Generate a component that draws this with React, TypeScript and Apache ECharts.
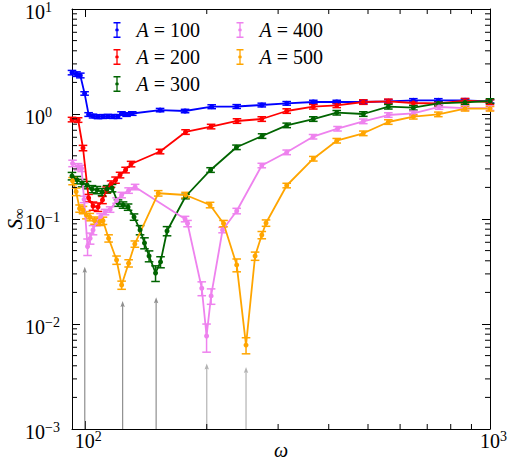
import React, { useEffect, useRef } from 'react';
import * as echarts from 'echarts';

const FONT = 'Liberation Serif, DejaVu Serif, serif';
const X_MIN = 93;
const X_MAX = 1000;
const Y_MIN = 0.001;
const Y_MAX = 10;

const seriesNames = ['A = 100', 'A = 200', 'A = 300', 'A = 400', 'A = 500'];
const seriesColors = ['#0000ff', '#ff0000', '#006400', '#ee82ee', '#ffa500'];

const w100 = [93.0, 95.4, 97.5, 99.9, 102.2, 104.8, 107.8, 110.9, 114.1, 117.4, 120.8, 123.2, 126.8, 131.0, 153.4, 176.8, 205.7, 237.1, 273.4, 315.0, 366.4, 418.6, 486.8, 561.2, 646.9, 745.6, 867.8, 1000];
const s100 = [2.48, 2.40, 2.33, 1.57, 0.989, 0.957, 0.943, 0.947, 0.951, 0.947, 0.947, 1.011, 0.989, 1.011, 1.09, 1.068, 1.174, 1.179, 1.218, 1.264, 1.301, 1.301, 1.301, 1.321, 1.35, 1.35, 1.35, 1.321];
const e100 = [0.12, 0.12, 0.12, 0.06, 0.04, 0.04, 0.04, 0.04, 0.04, 0.04, 0.04, 0.04, 0.04, 0.04, 0.04, 0.04, 0.05, 0.05, 0.05, 0.05, 0.05, 0.05, 0.05, 0.05, 0.05, 0.05, 0.05, 0.05];

const w200 = [93.0, 96.3, 99.0, 102.2, 104.8, 107.8, 110.6, 113.2, 116.1, 119.1, 122.2, 126.1, 130.1, 153.4, 177.3, 205.0, 237.5, 273.4, 315.0, 366.4, 418.6, 486.8, 561.2, 646.9, 745.6, 867.8, 1000];
const s200 = [0.886, 0.877, 0.4745, 0.1585, 0.133, 0.130, 0.152, 0.189, 0.2155, 0.235, 0.2625, 0.293, 0.334, 0.4395, 0.674, 0.760, 0.858, 0.896, 1.068, 1.174, 1.21, 1.301, 1.321, 1.273, 1.259, 1.339, 1.301];
const e200 = [0.044, 0.044, 0.028, 0.013, 0.012, 0.012, 0.012, 0.013, 0.015, 0.016, 0.016, 0.018, 0.02, 0.022, 0.034, 0.038, 0.043, 0.045, 0.053, 0.059, 0.06, 0.065, 0.066, 0.064, 0.063, 0.067, 0.065];

const w300 = [93.0, 95.7, 98.5, 101.3, 104.2, 107.2, 110.3, 113.5, 116.8, 120.8, 124.3, 127.9, 132.3, 136.9, 140.4, 144.1, 149.5, 153.8, 159.6, 177.3, 204.4, 236.8, 273.9, 315.0, 366.4, 418.6, 486.8, 561.2, 646.9, 745.6, 867.8, 1000];
const s300 = [0.2567, 0.235, 0.2203, 0.2108, 0.193, 0.189, 0.1808, 0.193, 0.1974, 0.142, 0.136, 0.130, 0.1045, 0.0786, 0.0591, 0.0444, 0.0306, 0.039, 0.0769, 0.1638, 0.293, 0.482, 0.617, 0.78, 0.896, 1.029, 1.0, 1.174, 1.148, 1.264, 1.292, 1.33];
const e300 = [0.021, 0.019, 0.018, 0.017, 0.015, 0.015, 0.014, 0.015, 0.016, 0.010, 0.0095, 0.009, 0.0073, 0.0079, 0.0071, 0.0053, 0.0052, 0.0047, 0.0077, 0.0082, 0.015, 0.024, 0.031, 0.039, 0.045, 0.051, 0.05, 0.059, 0.057, 0.063, 0.065, 0.067];

const w400 = [93.3, 96.3, 98.2, 99.6, 101.6, 103.1, 104.8, 106.9, 109.4, 112.2, 115.5, 119.8, 123.3, 128.3, 133.1, 176.8, 179.3, 194.4, 199.8, 205.0, 218.8, 237.1, 273.4, 315.0, 365.9, 420.5, 486.8, 561.2, 646.9, 748.6, 867.8, 1000];
const s400 = [0.339, 0.315, 0.304, 0.154, 0.0547, 0.0655, 0.0786, 0.0936, 0.105, 0.1166, 0.1232, 0.150, 0.1693, 0.1868, 0.2018, 0.1, 0.0906, 0.0219, 0.00769, 0.0185, 0.0786, 0.1192, 0.3233, 0.4317, 0.608, 0.7244, 0.852, 0.978, 1.015, 1.166, 1.14, 1.14];
const e400 = [0.024, 0.022, 0.021, 0.011, 0.0098, 0.0079, 0.0079, 0.0075, 0.0074, 0.007, 0.0074, 0.009, 0.0102, 0.0112, 0.0121, 0.006, 0.0063, 0.0033, 0.0023, 0.0031, 0.0047, 0.0072, 0.016, 0.022, 0.03, 0.036, 0.043, 0.049, 0.051, 0.058, 0.057, 0.057];

const w500 = [93.3, 95.2, 97.1, 99.0, 100.9, 102.9, 105.7, 108.9, 110.9, 114.5, 119.8, 123.3, 128.3, 132.9, 151.8, 177.3, 203.8, 220.0, 237.1, 250.0, 263.2, 273.4, 280.1, 315.0, 366.4, 418.6, 486.8, 561.2, 646.9, 745.6, 867.8, 1000];
const s500 = [0.230, 0.182, 0.126, 0.122, 0.109, 0.1045, 0.0968, 0.0942, 0.0964, 0.0655, 0.0407, 0.0235, 0.0379, 0.0578, 0.1758, 0.1693, 0.136, 0.0906, 0.0365, 0.0063, 0.0444, 0.0704, 0.0916, 0.2085, 0.3753, 0.557, 0.655, 0.839, 0.9425, 0.993, 1.123, 1.123];
const e500 = [0.018, 0.015, 0.01, 0.0098, 0.0087, 0.0084, 0.0077, 0.0075, 0.0077, 0.0052, 0.0037, 0.0021, 0.003, 0.004, 0.0105, 0.0102, 0.0082, 0.0063, 0.0051, 0.0011, 0.004, 0.0056, 0.0064, 0.0104, 0.019, 0.028, 0.033, 0.042, 0.047, 0.05, 0.056, 0.056];

const arrowOmega = [100, 124, 150, 200, 250];
const arrowTop = [0.035, 0.0166, 0.018, 0.0042, 0.0039];
const arrowColors = ['#8f8f8f', '#8f8f8f', '#8f8f8f', '#b3b3b3', '#b3b3b3'];

const xMinorTicks = [200, 300, 400, 500, 600, 700, 800, 900];
const yMinorTicks = [
  0.002, 0.003, 0.004, 0.005, 0.006, 0.007, 0.008, 0.009,
  0.02, 0.03, 0.04, 0.05, 0.06, 0.07, 0.08, 0.09,
  0.2, 0.3, 0.4, 0.5, 0.6, 0.7, 0.8, 0.9,
  2, 3, 4, 5, 6, 7, 8, 9,
];

const allW = [w100, w200, w300, w400, w500];
const allS = [s100, s200, s300, s400, s500];
const allE = [e100, e200, e300, e400, e500];

const LEGEND_ICON =
  'path://M0,0H7V1.4H4.15V14.6H7V16H0V14.6H2.85V1.4H0Z M1.7,8A1.8,1.8,0,1,1,5.3,8A1.8,1.8,0,1,1,1.7,8Z';

function powLabel(v: number, onX: boolean) {
  const lg = Math.log10(v);
  const k = Math.round(lg);
  if (Math.abs(lg - k) > 1e-6) return '';
  const ex = k < 0 ? '\u2212' + Math.abs(k) : String(k);
  return onX ? `{b|10}{s|${ex}}` : `{a|10}{t|${ex}}`;
}

const labelRich = {
  a: { fontFamily: FONT, fontSize: 20, lineHeight: 20, color: '#000', padding: [5, 0, 0, 0] },
  t: { fontFamily: FONT, fontSize: 14, lineHeight: 14, color: '#000', padding: [0, 0, 3, 0] },
  b: { fontFamily: FONT, fontSize: 20, lineHeight: 20, color: '#000', padding: [0, 0, 0, 7] },
  s: { fontFamily: FONT, fontSize: 14, lineHeight: 14, color: '#000', padding: [0, 0, 9, 0] },
};

function buildOption() {
  const series: any[] = [];

  series.push({
    type: 'custom',
    name: 'arrows',
    silent: true,
    clip: false,
    z: 1,
    data: arrowOmega.map((w, i) => [w, arrowTop[i]]),
    renderItem: (params: any, api: any) => {
      const i = params.dataIndex;
      const b = api.coord([api.value(0), Y_MIN]);
      const t = api.coord([api.value(0), api.value(1)]);
      const c = arrowColors[i];
      return {
        type: 'group',
        children: [
          { type: 'line', shape: { x1: b[0], y1: b[1], x2: t[0], y2: t[1] + 4 }, style: { stroke: c, lineWidth: 1.2 } },
          {
            type: 'polygon',
            shape: { points: [[t[0], t[1]], [t[0] - 2.2, t[1] + 6], [t[0], t[1] + 5], [t[0] + 2.2, t[1] + 6]] },
            style: { fill: c },
          },
        ],
      };
    },
  });

  for (let k = 0; k < 5; k++) {
    const color = seriesColors[k];
    const ws = allW[k];
    const ss = allS[k];
    const es = allE[k];
    series.push({
      type: 'line',
      name: seriesNames[k],
      data: ws.map((w, i) => [w, ss[i]]),
      symbol: 'circle',
      symbolSize: 5,
      showSymbol: true,
      silent: true,
      lineStyle: { color, width: 1.8 },
      itemStyle: { color },
      z: 2,
    });
    series.push({
      type: 'custom',
      name: seriesNames[k],
      silent: true,
      z: 2,
      itemStyle: { color },
      data: ws.map((w, i) => [w, ss[i] - es[i], ss[i] + es[i]]),
      encode: { x: 0, y: [1, 2] },
      renderItem: (params: any, api: any) => {
        const x = api.value(0);
        const lo = api.coord([x, api.value(1)]);
        const hi = api.coord([x, api.value(2)]);
        const hw = 4.3;
        const st = { stroke: color, lineWidth: 1.5 };
        return {
          type: 'group',
          children: [
            { type: 'line', shape: { x1: lo[0], y1: lo[1], x2: hi[0], y2: hi[1] }, style: st },
            { type: 'line', shape: { x1: lo[0] - hw, y1: lo[1], x2: lo[0] + hw, y2: lo[1] }, style: st },
            { type: 'line', shape: { x1: hi[0] - hw, y1: hi[1], x2: hi[0] + hw, y2: hi[1] }, style: st },
          ],
        };
      },
    });
  }

  series.push({
    type: 'custom',
    name: 'xminor',
    silent: true,
    clip: false,
    z: 5,
    data: xMinorTicks.map((v) => [v, Y_MIN]),
    renderItem: (params: any, api: any) => {
      const b = api.coord([api.value(0), Y_MIN]);
      const t = api.coord([api.value(0), Y_MAX]);
      const st = { stroke: '#000', lineWidth: 1 };
      return {
        type: 'group',
        children: [
          { type: 'line', shape: { x1: b[0], y1: b[1], x2: b[0], y2: b[1] - 5 }, style: st },
          { type: 'line', shape: { x1: t[0], y1: t[1], x2: t[0], y2: t[1] + 5 }, style: st },
        ],
      };
    },
  });
  series.push({
    type: 'custom',
    name: 'yminor',
    silent: true,
    clip: false,
    z: 5,
    data: yMinorTicks.map((v) => [X_MIN, v]),
    renderItem: (params: any, api: any) => {
      const l = api.coord([X_MIN, api.value(1)]);
      const r = api.coord([X_MAX, api.value(1)]);
      const st = { stroke: '#000', lineWidth: 1 };
      return {
        type: 'group',
        children: [
          { type: 'line', shape: { x1: l[0], y1: l[1], x2: l[0] + 5, y2: l[1] }, style: st },
          { type: 'line', shape: { x1: r[0], y1: r[1], x2: r[0] - 5, y2: r[1] }, style: st },
        ],
      };
    },
  });

  const legendText = {
    fontFamily: FONT,
    fontSize: 20,
    color: '#000',
    rich: {
      i: { fontFamily: FONT, fontSize: 20, fontStyle: 'italic', color: '#000', padding: [0, 0, 0, 11], lineHeight: 20 },
      n: { fontFamily: FONT, fontSize: 20, color: '#000', lineHeight: 20 },
    },
  };
  const legendFmt = (name: string) => `{i|A}{n| = ${name.split('= ')[1]}}`;
  const legendBase = {
    orient: 'vertical',
    top: 15,
    itemWidth: 7,
    itemHeight: 16,
    itemGap: 7,
    icon: LEGEND_ICON,
    selectedMode: false,
    textStyle: legendText,
    formatter: legendFmt,
  };

  const axisLine = { show: true, onZero: false, lineStyle: { color: '#000', width: 1 } };
  const axisTick = { show: true, inside: true, length: 8, lineStyle: { color: '#000', width: 1 } };

  return {
    animation: false,
    backgroundColor: '#fff',
    textStyle: { fontFamily: FONT },
    grid: { left: 72, right: 18, top: 9, bottom: 31, containLabel: false, outerBoundsMode: 'none' },
    legend: [
      { ...legendBase, left: 108.5, data: seriesNames.slice(0, 3) },
      { ...legendBase, left: 231.5, data: seriesNames.slice(3) },
    ],
    xAxis: [
      {
        type: 'log',
        logBase: 10,
        min: X_MIN,
        max: X_MAX,
        axisLine,
        axisTick,
        splitLine: { show: false },
        axisLabel: { margin: 2, fontFamily: FONT, formatter: (v: number) => powLabel(v, true), rich: labelRich },
        name: 'ω',
        nameLocation: 'middle',
        nameGap: 12,
        nameMoveOverlap: false,
        nameTextStyle: { fontFamily: FONT, fontSize: 20, lineHeight: 17, fontStyle: 'italic', color: '#000' },
      },
      {
        type: 'log',
        logBase: 10,
        min: X_MIN,
        max: X_MAX,
        position: 'top',
        axisLine,
        axisTick,
        splitLine: { show: false },
        axisLabel: { show: false },
      },
    ],
    yAxis: [
      {
        type: 'log',
        logBase: 10,
        min: Y_MIN,
        max: Y_MAX,
        axisLine,
        axisTick,
        splitLine: { show: false },
        axisLabel: { margin: 47, align: 'left', fontFamily: FONT, formatter: (v: number) => powLabel(v, false), rich: labelRich },
        name: '{s|S}{u|∞}',
        nameLocation: 'middle',
        nameGap: 47,
        nameMoveOverlap: false,
        nameTextStyle: {
          fontFamily: FONT,
          rich: {
            s: { fontFamily: FONT, fontSize: 21, lineHeight: 21, fontStyle: 'italic', color: '#000' },
            u: { fontFamily: FONT, fontSize: 15, lineHeight: 15, color: '#000', padding: [8, 0, 0, 0] },
          },
        },
      },
      {
        type: 'log',
        logBase: 10,
        min: Y_MIN,
        max: Y_MAX,
        position: 'right',
        axisLine,
        axisTick,
        splitLine: { show: false },
        axisLabel: { show: false },
      },
    ],
    series,
  };
}

export default function App() {
  const ref = useRef<HTMLDivElement>(null);
  useEffect(() => {
    if (!ref.current) return;
    const chart = echarts.init(ref.current, undefined, { renderer: 'svg' });
    chart.setOption(buildOption() as any);
    return () => chart.dispose();
  }, []);
  return <div ref={ref} style={{ position: 'absolute', left: 0, top: 0, width: 508, height: 460 }} />;
}
